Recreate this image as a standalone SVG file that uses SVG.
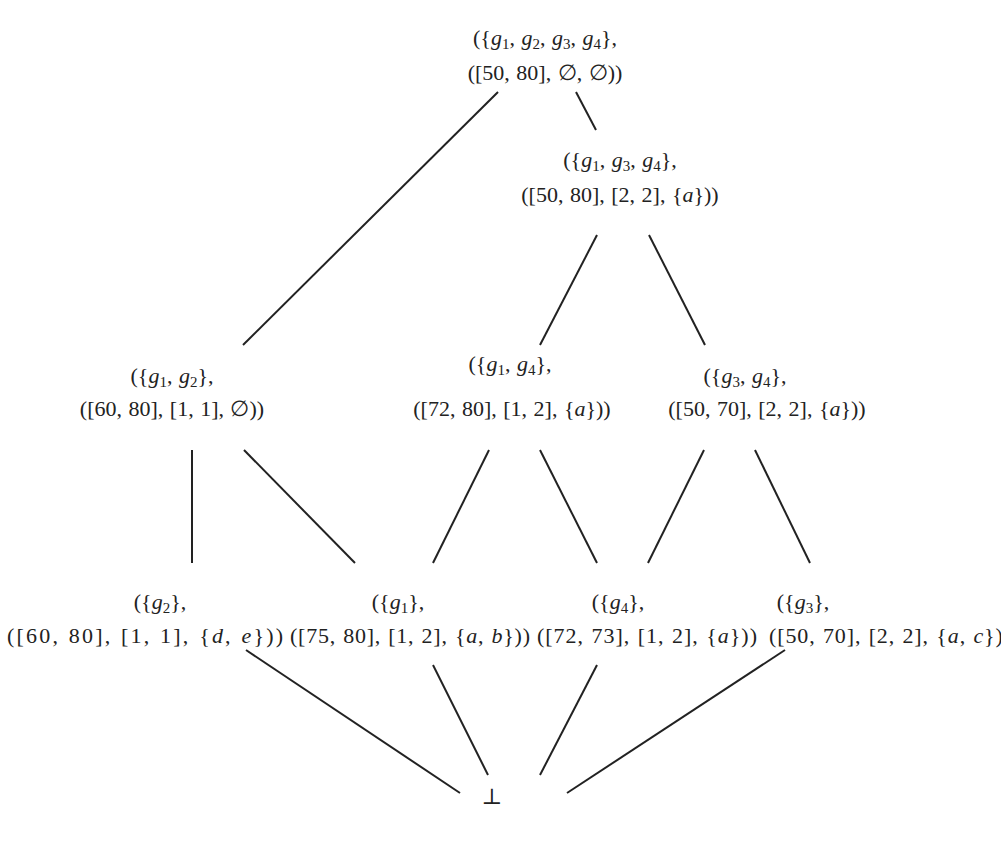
<svg xmlns="http://www.w3.org/2000/svg" width="1001" height="857" viewBox="0 0 1001 857">
<style>
text{font-family:"Liberation Serif","DejaVu Serif",serif;font-size:22px;fill:#222;text-anchor:middle;word-spacing:1px}
.i{font-style:italic}
.s{font-size:15px;baseline-shift:-4px}
#edges line{stroke:#222;stroke-width:2}
</style>
<rect width="1001" height="857" fill="#fff"/>
<g id="edges">
<line x1="498" y1="92" x2="243" y2="345"/>
<line x1="576" y1="92" x2="596" y2="130"/>
<line x1="597" y1="235" x2="540" y2="345"/>
<line x1="649" y1="235" x2="705" y2="345"/>
<line x1="192" y1="450" x2="192" y2="563"/>
<line x1="244" y1="450" x2="355" y2="563"/>
<line x1="489" y1="450" x2="433" y2="563"/>
<line x1="540" y1="450" x2="597" y2="563"/>
<line x1="704" y1="450" x2="648" y2="563"/>
<line x1="755" y1="450" x2="810" y2="563"/>
<line x1="246" y1="650" x2="460" y2="793"/>
<line x1="433" y1="665" x2="488" y2="775"/>
<line x1="597" y1="665" x2="540" y2="775"/>
<line x1="785" y1="650" x2="567" y2="793"/>
</g>
<g id="top">
<text x="545" y="45">({<tspan class="i">g</tspan><tspan class="s">1</tspan>, <tspan class="i">g</tspan><tspan class="s">2</tspan>, <tspan class="i">g</tspan><tspan class="s">3</tspan>, <tspan class="i">g</tspan><tspan class="s">4</tspan>},</text>
<text x="545" y="80">([50, 80], ∅, ∅))</text>
</g>
<g id="n134">
<text x="620" y="167">({<tspan class="i">g</tspan><tspan class="s">1</tspan>, <tspan class="i">g</tspan><tspan class="s">3</tspan>, <tspan class="i">g</tspan><tspan class="s">4</tspan>},</text>
<text x="620" y="202">([50, 80], [2, 2], {<tspan class="i">a</tspan>}))</text>
</g>
<g id="n12">
<text x="172" y="383">({<tspan class="i">g</tspan><tspan class="s">1</tspan>, <tspan class="i">g</tspan><tspan class="s">2</tspan>},</text>
<text x="172" y="416">([60, 80], [1, 1], ∅))</text>
</g>
<g id="n14">
<text x="510" y="371">({<tspan class="i">g</tspan><tspan class="s">1</tspan>, <tspan class="i">g</tspan><tspan class="s">4</tspan>},</text>
<text x="512" y="416">([72, 80], [1, 2], {<tspan class="i">a</tspan>}))</text>
</g>
<g id="n34">
<text x="745" y="383">({<tspan class="i">g</tspan><tspan class="s">3</tspan>, <tspan class="i">g</tspan><tspan class="s">4</tspan>},</text>
<text x="767" y="416">([50, 70], [2, 2], {<tspan class="i">a</tspan>}))</text>
</g>
<g id="n2">
<text x="160" y="609">({<tspan class="i">g</tspan><tspan class="s">2</tspan>},</text>
<text x="145" y="643" textLength="276" lengthAdjust="spacing">([60, 80], [1, 1], {<tspan class="i">d</tspan>, <tspan class="i">e</tspan>}))</text>
</g>
<g id="n1">
<text x="398" y="609">({<tspan class="i">g</tspan><tspan class="s">1</tspan>},</text>
<text x="410" y="643" textLength="240" lengthAdjust="spacing">([75, 80], [1, 2], {<tspan class="i">a</tspan>, <tspan class="i">b</tspan>}))</text>
</g>
<g id="n4">
<text x="618" y="609">({<tspan class="i">g</tspan><tspan class="s">4</tspan>},</text>
<text x="647" y="643" textLength="220" lengthAdjust="spacing">([72, 73], [1, 2], {<tspan class="i">a</tspan>}))</text>
</g>
<g id="n3">
<text x="803" y="609">({<tspan class="i">g</tspan><tspan class="s">3</tspan>},</text>
<text x="890" y="643" textLength="242" lengthAdjust="spacing">([50, 70], [2, 2], {<tspan class="i">a</tspan>, <tspan class="i">c</tspan>}))</text>
</g>
<g id="bottom">
<text x="492" y="804">⊥</text>
</g>
</svg>
